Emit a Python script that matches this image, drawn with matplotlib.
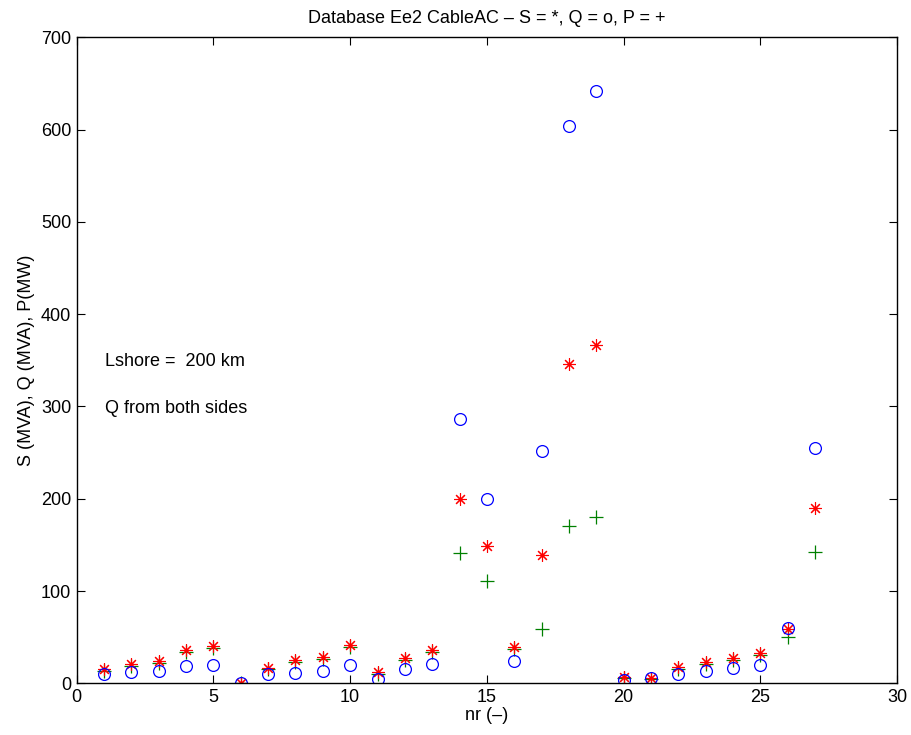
import matplotlib
matplotlib.use('Agg')
import matplotlib.pyplot as plt

nr = list(range(1, 28))

S = [15, 21, 24, 36, 40, 0, 17, 25, 28, 41, 12, 27, 36,
     200, 149, 39, 139, 346, 367, 7, 6, 18, 23, 27, 33, 59, 190]
Q = [10, 12, 13.5, 18.5, 20, 0, 10, 11.5, 13.5, 20, 5, 16, 20.5,
     286, 200, 24, 252, 604, 642, 3.5, 5.5, 10.5, 13, 17, 20, 59.5, 255]
P = [13, 19, 22, 34, 38, 0, 15, 23, 26, 39, 10, 25, 34,
     141, 111, 37, 59, 170, 180, 6, 5, 16, 21, 25, 31, 50, 142]

plt.rcParams['font.family'] = ['Liberation Sans', 'DejaVu Sans']
plt.rcParams['font.size'] = 13

fig = plt.figure(figsize=(9.11, 7.35), dpi=100)
ax = fig.add_axes([0.0842, 0.0703, 0.9005, 0.8789])

ax.plot(nr, P, linestyle='none', marker='+', markersize=10, markeredgewidth=0.9,
        color=(0, 0.5, 0))
ax.plot(nr, S, linestyle='none', marker=(8, 2, 0), markersize=9, markeredgewidth=0.8,
        color='r')
ax.plot(nr, Q, linestyle='none', marker='o', markersize=8.5, markeredgewidth=0.9,
        markerfacecolor='none', markeredgecolor='b')

ax.set_xlim(0, 30)
ax.set_ylim(0, 700)
ax.set_xticks(range(0, 31, 5))
ax.set_yticks(range(0, 701, 100))
ax.tick_params(axis='both', direction='in', top=True, right=True, length=6, pad=4)
for s in ax.spines.values():
    s.set_linewidth(1)

ax.set_xlabel('nr (–)', labelpad=1)
ax.set_ylabel('S (MVA), Q (MVA), P(MW)', labelpad=4)
ax.set_title('Database Ee2 CableAC – S = *, Q = o, P = +', fontsize=13, pad=10)

ax.text(1.02, 349, 'Lshore =  200 km', va='center')
ax.text(1.02, 298, 'Q from both sides', va='center')

fig.savefig('out.png', dpi=100)
